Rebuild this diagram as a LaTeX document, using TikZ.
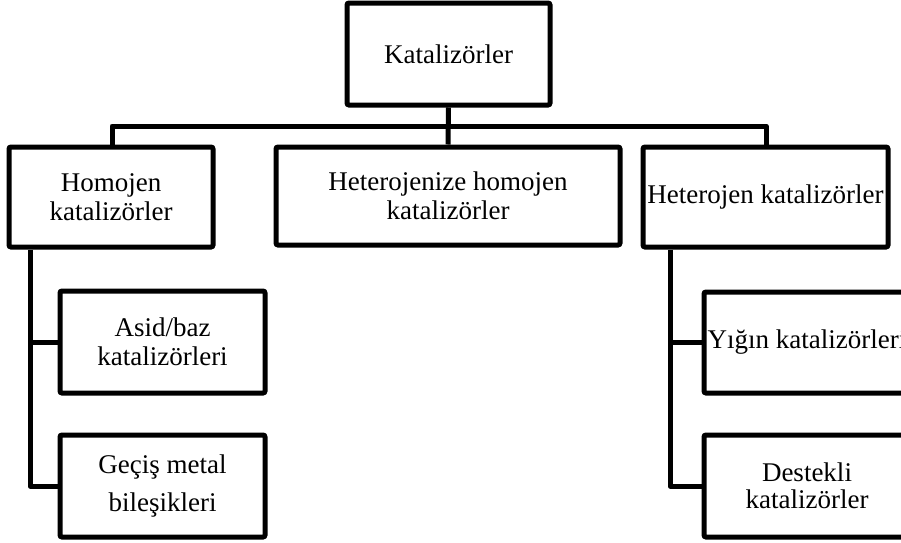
\documentclass[tikz,border=0pt]{standalone}
\usepackage{fontspec}
\setmainfont{Liberation Serif}
\begin{document}
\begin{tikzpicture}[x=0.5pt,y=-0.5pt,
  box/.style={draw=black,line width=2.5pt,rounded corners=1pt,align=center,inner sep=0pt,
    font=\fontsize{13.5}{14.5}\selectfont},
  conn/.style={draw=black,line width=2.5pt,line join=round}]
\useasboundingbox (0,0) rectangle (901,542);
\clip (0,0) rectangle (901,542);
\node[box,minimum width=101.5pt,minimum height=51pt] (top) at (448.5,54) {Katalizörler};
\node[box,minimum width=102pt,minimum height=50pt] (homo) at (111,197) {Homojen\\katalizörler};
\node[box,minimum width=172pt,minimum height=49pt] (mid) at (448,196) {Heterojenize homojen\\katalizörler};
\node[box,minimum width=122.5pt,minimum height=50pt] (het) at (765.5,197) {Heterojen katalizörler};
\node[box,minimum width=102.5pt,minimum height=51pt] (asid) at (162.5,342) {Asid/baz\\katalizörleri};
\node[box,minimum width=102.5pt,minimum height=51pt,font=\fontsize{13.5}{19}\selectfont] (gecis) at (162.5,486) {Geçiş metal\\bileşikleri};
\node[box,minimum width=103pt,minimum height=50.5pt] (yigin) at (807,342.5) {Yığın katalizörleri};
\node[box,minimum width=103pt,minimum height=51pt,font=\fontsize{13.5}{13.5}\selectfont] (dest) at (807,486) {Destekli\\katalizörler};
\coordinate (busL) at (112,126);
\coordinate (busR) at (766,126);
\coordinate (lv) at (30,247);
\coordinate (rv) at (670,247);
\draw[conn] (top.south) -- (mid.north);
\draw[conn] (homo.north -| busL) -- (busL) -- (busR) -- (het.north -| busR);
\draw[conn] (lv |- homo.south) -- (lv |- gecis.west) -- (gecis.west);
\draw[conn] (lv |- asid.west) -- (asid.west);
\draw[conn] (rv |- het.south) -- (rv |- dest.west) -- (dest.west);
\draw[conn] (rv |- yigin.west) -- (yigin.west);
\end{tikzpicture}
\end{document}
